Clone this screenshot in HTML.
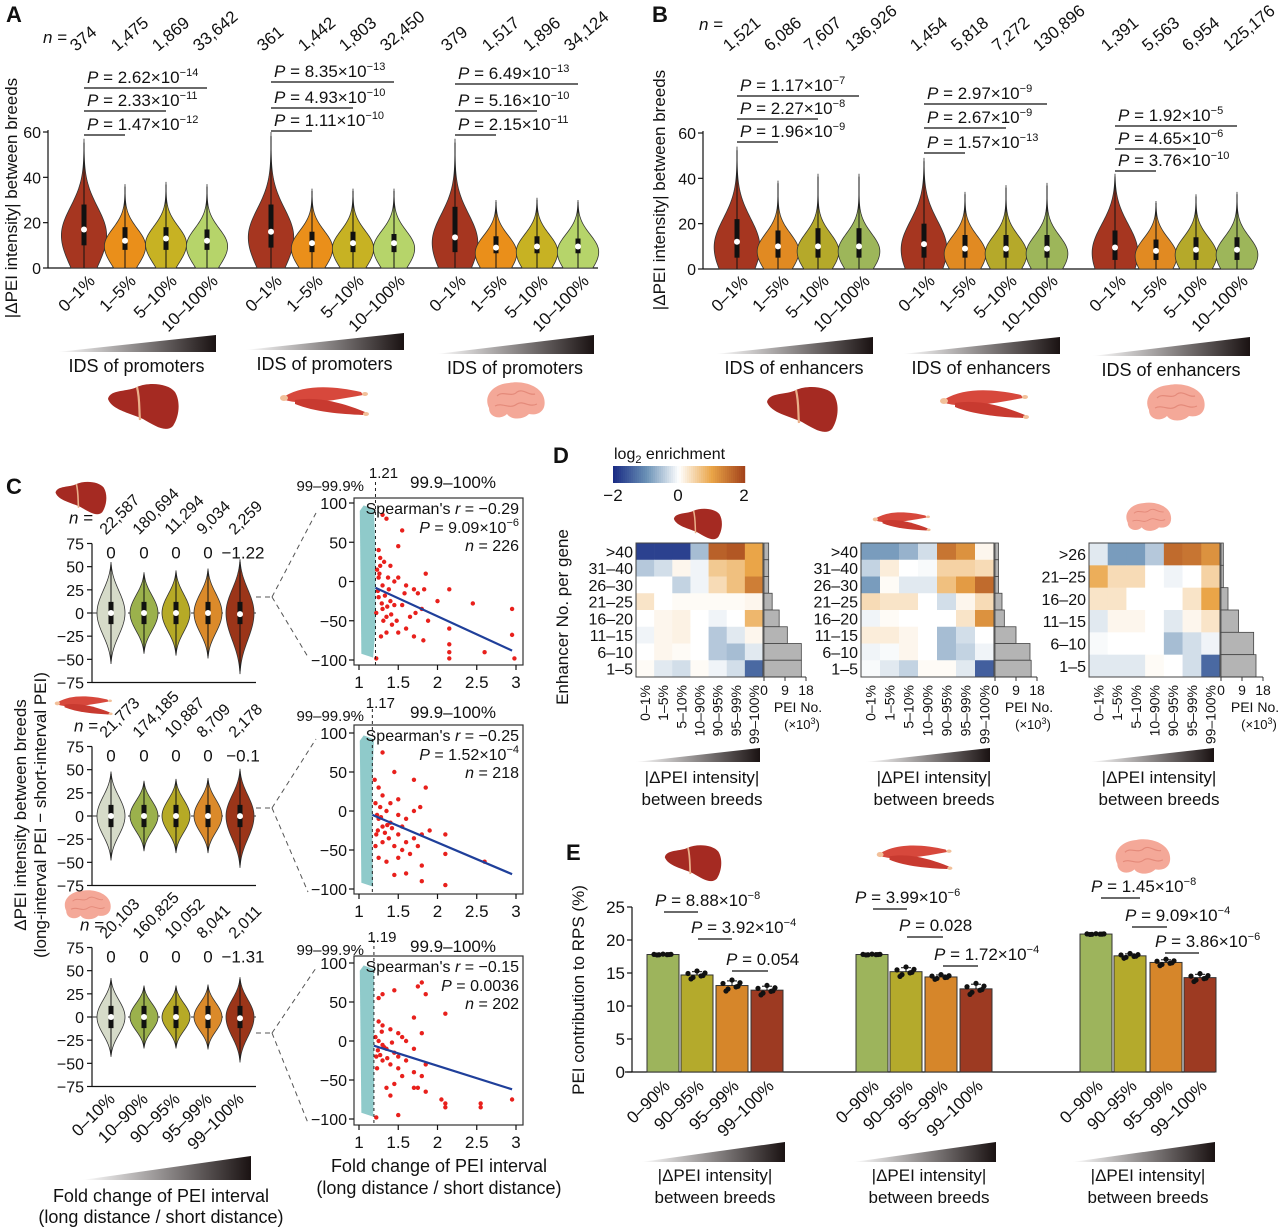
<!DOCTYPE html>
<html><head><meta charset="utf-8">
<style>
html,body{margin:0;padding:0;background:#fff;}
svg{display:block;font-family:"Liberation Sans",Arial,sans-serif;}
</style></head>
<body>
<svg id="fig" width="1280" height="1228" viewBox="0 0 1280 1228" xmlns="http://www.w3.org/2000/svg">
<defs>
<linearGradient id="tri" x1="0" x2="1" y1="0" y2="0"><stop offset="0" stop-color="#ffffff"/><stop offset="1" stop-color="#1a1212"/></linearGradient>
</defs>
</svg>
<script>
// ---------- DATA ----------
const aCats=['0–1%','1–5%','5–10%','10–100%'];
const aN=[['374','1,475','1,869','33,642'],['361','1,442','1,803','32,450'],['379','1,517','1,896','34,124']];
const aMax=[[57,37,38,37],[60,35,35,35],[57,30,31,30]];
const aMed=[[17,12,13,12],[16,11,11,11],[13.5,9,9.5,9.5]];
const aQ1=[[10,8,8,8],[9,7,7,7],[7,6.5,6.5,6.5]];
const aQ3=[[28,18,18,17],[28,16,16,15],[27,14,14,13]];
const aP=[[['2.62','−14'],['2.33','−11'],['1.47','−12']],[['8.35','−13'],['4.93','−10'],['1.11','−10']],[['6.49','−13'],['5.16','−10'],['2.15','−11']]];
const bN=[['1,521','6,086','7,607','136,926'],['1,454','5,818','7,272','130,896'],['1,391','5,563','6,954','125,176']];
const bMax=[[54,39,42,42],[49,34,37,38],[42,30,33,34]];
const bMed=[[12,10,10,10],[11,9,9,9],[9.5,8,8.5,8.5]];
const bQ1=[[5,5,5,5],[5,5,5,5],[4,4,4,4]];
const bQ3=[[22,17,18,18],[20,15,15,15],[17,13,14,14]];
const bP=[[['1.17','−7'],['2.27','−8'],['1.96','−9']],[['2.97','−9'],['2.67','−9'],['1.57','−13']],[['1.92','−5'],['4.65','−6'],['3.76','−10']]];
const cCats=['0–10%','10–90%','90–95%','95–99%','99–100%'];
const cN=[['22,587','180,694','11,294','9,034','2,259'],['21,773','174,185','10,887','8,709','2,178'],['20,103','160,825','10,052','8,041','2,011']];
const cMedLbl=[['0','0','0','0','−1.22'],['0','0','0','0','−0.1'],['0','0','0','0','−1.31']];
const cTop=[[55,44,46,48,58],[48,38,40,41,51],[42,34,34,35,43]];
const cBot=[[-55,-44,-46,-49,-66],[-48,-38,-40,-40,-56],[-43,-34,-34,-35,-49]];
const cMed=[[0,0,0,0,-1.22],[0,0,0,0,-0.1],[0,0,0,0,-1.31]];
const cutoffs=[1.21,1.17,1.19];
const spearR=['−0.29','−0.25','−0.15'];
const spearP=[['9.09','−6'],['1.52','−4'],['0.0036',null]];
const spearN=['226','218','202'];
const regX=[[1.21,2.95],[1.17,2.95],[1.19,2.95]];
const regY=[[-8,-88],[-5,-81],[-6,-62]];
const red1X=[1.25,1.3,1.35,1.55,1.5,1.27,1.32,1.4,1.45,1.25,1.3,1.38,1.5,1.6,1.7,1.75,1.85,1.83,1.25,1.3,1.35,1.42,1.48,1.55,1.6,1.65,1.72,1.8,1.88,2.0,2.15,2.45,1.35,1.5,1.7,1.82,2.15,2.15,2.15,2.15,2.6,2.95,2.95,2.98,1.22,1.28,1.45,1.58,1.26,1.4,1.23,1.24,1.29,1.33,1.36,1.41,1.22,1.27,1.31,1.37];
const red1Y=[40,85,80,65,45,30,25,20,0,5,-5,-10,5,-5,-10,-15,10,-10,-20,-35,-45,-55,-50,-30,-60,-45,-40,-35,-50,-25,-10,-28,-65,-65,-70,-75,-60,-80,-90,-98,-90,-35,-68,-98,-98,-70,-30,-15,10,-25,15,-12,-28,-18,-32,-42,-40,20,-50,5];
const red2X=[1.2,1.25,1.3,1.45,1.3,1.4,1.5,1.35,1.25,1.3,1.4,1.5,1.55,1.6,1.7,1.78,1.85,1.7,1.22,1.3,1.38,1.45,1.5,1.6,1.7,1.75,1.8,1.9,2.1,2.1,1.25,1.35,1.5,1.6,1.45,1.8,1.8,2.1,2.6,1.23,1.55,1.65,1.21,1.24,1.28,1.33,1.36,1.42,1.21,1.27];
const red2Y=[40,30,75,50,20,10,15,0,-10,-20,-15,-5,-20,-10,0,5,30,40,-30,-40,-35,-45,-30,-40,-35,-45,-30,-25,-30,-55,-60,-65,-60,-80,-82,-70,-90,-95,-65,-5,-50,-55,10,-25,-8,-28,-18,-22,-45,5];
const red3X=[1.25,1.3,1.45,1.75,1.8,1.85,2.1,1.7,1.25,1.3,1.4,1.5,1.55,1.25,1.3,1.35,1.45,1.5,1.6,1.7,1.8,1.22,1.3,1.4,1.5,1.55,1.6,1.7,1.8,1.85,1.45,1.35,1.7,1.75,1.85,2.05,2.1,2.1,2.55,2.55,2.95,1.5,1.22,1.4,1.21,1.24,1.27,1.32,1.36,1.42,1.23,1.29];
const red3Y=[55,60,65,70,75,60,35,30,25,20,15,10,5,0,-5,-10,-15,-20,0,-10,10,-20,-25,-30,-35,-45,-25,-40,-45,-30,-55,-60,-60,-60,-65,-75,-80,-85,-80,-85,-75,-95,-98,-70,5,-12,-18,-8,-22,-2,-35,12];
const hmCols=['0–1%','1–5%','5–10%','10–90%','90–95%','95–99%','99–100%'];
const hmRows1=['>40','31–40','26–30','21–25','16–20','11–15','6–10','1–5'];
const hmRows3=['>26','21–25','16–20','11–15','6–10','1–5'];
const hm1=[[-1.8,-1.8,-1.8,-0.6,1.7,1.8,1.0],[-0.5,-0.3,0.1,-0.1,0.6,0.7,1.0],[0,0,-0.4,-0.1,0.4,0.7,1.4],[0.3,0,0.05,0.05,0.05,0.05,0.1],[0,0.1,0.15,0,-0.1,0,0.8],[-0.1,0.1,0.15,0,-0.5,-0.2,0.1],[0,0.1,0.05,0,-0.5,-0.6,-0.2],[0.05,-0.2,-0.3,0.05,-0.1,-0.3,-1.4]];
const hm2=[[-0.9,-0.9,-0.7,-0.3,1.5,1.2,0.1],[-0.4,0.2,0,-0.05,0.5,0.5,0.4],[-0.9,0.05,-0.2,-0.2,0.7,1.1,1.6],[0.4,0.3,0.3,0,-0.3,0.1,0.4],[-0.1,0.05,0,0,0,0.3,1.2],[0.2,0.2,0.1,0,-0.6,-0.3,0],[-0.1,-0.05,0.1,0,-0.6,-0.4,-0.1],[-0.05,-0.2,-0.4,0.05,0.05,-0.2,-1.5]];
const hm3=[[-0.2,-0.9,-0.9,-0.5,1.6,1.5,1.2],[0.9,0.4,0.4,0,-0.1,0,0.5],[0.3,0.3,0,0,0,0.3,1.0],[-0.2,0.1,0.1,0,-0.2,0.1,0.3],[-0.05,0,0,0,-0.6,-0.3,-0.1],[-0.2,-0.2,-0.2,0.05,0,-0.3,-1.4]];
const hmBar1=[2,2,2,3.5,6.5,10,16,16];
const hmBar2=[1.5,1.5,1.5,3,4,9,15,15.5];
const hmBar3=[1,1,3,7.5,14,15];
const eCats=['0–90%','90–95%','95–99%','99–100%'];
const eVals=[[17.8,14.7,13.1,12.4],[17.8,15.2,14.4,12.6],[20.9,17.6,16.6,14.3]];
const eSpread=[[0.05,0.5,0.7,0.6],[0.05,0.6,0.3,0.7],[0.05,0.3,0.4,0.5]];
const eP=[[['8.88','−8'],['3.92','−4'],['0.054',null]],[['3.99','−6'],['0.028',null],['1.72','−4']],[['1.45','−8'],['9.09','−4'],['3.86','−6']]];

// ---------- HELPERS ----------
const NS='http://www.w3.org/2000/svg';
const svg=document.getElementById('fig');
function mk(tag,attrs,parent){const e=document.createElementNS(NS,tag);for(const k in attrs)e.setAttribute(k,attrs[k]);(parent||svg).appendChild(e);return e;}
function nm(e,n){


return e;}
function txt(x,y,html,size,anchor,rot,parent){const t=mk('text',{x:x,y:y,'font-size':size||16,'text-anchor':anchor||'start',fill:'#111'},parent);if(rot)t.setAttribute('transform',`rotate(${rot} ${x} ${y})`);t.innerHTML=html;return t;}
function pHtml(v,ex){return `<tspan font-style="italic">P</tspan> = ${v}`+(ex?`×10<tspan dy="-7" font-size="11">${ex}</tspan>`:'');}
function line(x1,y1,x2,y2,st,w,dash,parent){const l=mk('line',{x1,y1,x2,y2,stroke:st||'#111','stroke-width':w||1.2},parent);if(dash)l.setAttribute('stroke-dasharray',dash);return l;}
function lerp(a,b,t){return a+(b-a)*t;}
function hex(c){return [parseInt(c.slice(1,3),16),parseInt(c.slice(3,5),16),parseInt(c.slice(5,7),16)];}
const cStops=[[-2,'#1b2d85'],[-1,'#6a91b6'],[0,'#ffffff'],[1,'#eaa548'],[2,'#a4441b']];
function cmap(v){v=Math.max(-2,Math.min(2,v));for(let i=0;i<cStops.length-1;i++){const [a,ca]=cStops[i],[b,cb]=cStops[i+1];if(v<=b){const t=(v-a)/(b-a),A=hex(ca),B=hex(cb);return `rgb(${A.map((x,j)=>Math.round(lerp(x,B[j],t))).join(',')})`;}}return cStops[4][1];}

function liver(cx,cy,s,name){const g=nm(mk('g',{transform:`translate(${cx},${cy}) scale(${s})`}),name);
mk('path',{d:'M-34,-6 C-32,-16 -14,-13 -5,-18 C6,-23 26,-22 33,-13 C39,-3 37,12 31,21 C24,28 13,21 1,14 C-12,8 -30,5 -34,-6 Z',fill:'#a52a22'},g);
mk('path',{d:'M-5,-18 C-2,-6 -3,6 -2,15',stroke:'#eab08a','stroke-width':2.2,fill:'none'},g);return g;}
function muscle(cx,cy,s,name){const g=nm(mk('g',{transform:`translate(${cx},${cy}) scale(${s})`}),name);
mk('path',{d:'M-40,-6 C-20,-18 10,-16 36,-10 L38,-7 C10,-2 -20,4 -40,-2 Z',fill:'#d7483c'},g);
mk('path',{d:'M-30,-2 C-5,-6 20,2 40,10 L38,13 C15,12 -10,10 -30,2 Z',fill:'#c83a30'},g);
mk('ellipse',{cx:-41,cy:-4,rx:4,ry:3,fill:'#f2c09a'},g);mk('ellipse',{cx:40,cy:-8,rx:3,ry:2,fill:'#f2c09a'},g);mk('ellipse',{cx:41,cy:12,rx:3,ry:2,fill:'#f2c09a'},g);return g;}
function brain(cx,cy,s,name){const g=nm(mk('g',{transform:`translate(${cx},${cy}) scale(${s})`}),name);
mk('path',{d:'M-26,6 C-32,-6 -22,-18 -6,-19 C8,-22 26,-16 29,-4 C32,8 24,14 14,12 C8,18 -4,18 -8,12 C-14,18 -26,16 -26,6 Z',fill:'#f4a898'},g);
mk('path',{d:'M-18,-6 C-12,-12 -4,-4 2,-10 C8,-14 14,-6 20,-8 M-20,4 C-12,0 -6,8 2,2 C8,-2 14,6 22,2',stroke:'#e48a7a','stroke-width':1.2,fill:'none'},g);return g;}
function triangle(x1,x2,ybot,ytop,name){return nm(mk('path',{d:`M${x1},${ybot} L${x2},${ytop} L${x2},${ybot} Z`,fill:'url(#tri)'}),name);}

function violinUp(cx,yf,mx,mode,med,q1,q3,hw,sd,su,col,name){
const g=nm(mk('g',{}),name);const R=[],L=[];const N=60;
for(let i=0;i<=N;i++){const v=mx*i/N;let gg=v<mode?Math.exp(-0.5*((v-mode)/sd)**2):Math.exp(-0.5*((v-mode)/su)**2);gg*=(1-Math.pow(v/mx,3));const w=hw*gg;R.push(`${cx+w},${yf(v)}`);L.unshift(`${cx-w},${yf(v)}`);}
mk('path',{d:'M'+R.join(' L')+' L'+L.join(' L')+'Z',fill:col,stroke:'#333','stroke-width':0.8},g);
line(cx,yf(0),cx,yf(mx*0.97),'#111',1,null,g);
mk('rect',{x:cx-2.5,y:yf(q3),width:5,height:yf(q1)-yf(q3),fill:'#111'},g);
mk('circle',{cx:cx,cy:yf(med),r:3,fill:'#fff'},g);return g;}
function violinSym(cx,yf,hi,lo,med,hw,col,name){
const g=nm(mk('g',{}),name);const R=[],L=[];const N=60;
for(let i=0;i<=N;i++){const v=lo+(hi-lo)*i/N;const lim=v>=0?hi:lo;const s=Math.abs(lim)*0.42;let w=hw*Math.exp(-0.5*(v/s)**2)*(1-Math.pow(v/lim,4));R.push(`${cx+w},${yf(v)}`);L.unshift(`${cx-w},${yf(v)}`);}
mk('path',{d:'M'+R.join(' L')+' L'+L.join(' L')+'Z',fill:col,stroke:'#333','stroke-width':0.8},g);
line(cx,yf(lo*0.95),cx,yf(hi*0.95),'#111',1,null,g);
mk('rect',{x:cx-2.5,y:yf(12),width:5,height:yf(-12)-yf(12),fill:'#111'},g);
mk('circle',{cx:cx,cy:yf(med),r:3,fill:'#fff'},g);return g;}

// ---------- PANEL A & B ----------
function violinPanel(P){
const yf=v=>P.y0-v*(P.y0-P.y60)/60;
txt(P.lx,22,'<tspan font-weight="bold">'+P.letter+'</tspan>',22);
nm(line(P.ax,P.y60-2,P.ax,P.y0),P.letter+'-y-axis');
nm(line(P.ax,P.y0,P.axEnd,P.y0),P.letter+'-x-axis');
[0,20,40,60].forEach(t=>{line(P.ax-5,yf(t),P.ax,yf(t));nm(txt(P.ax-7,yf(t)+6,String(t),16,'end'),'y-tick-'+t);});
nm(txt(P.titleX,P.titleY,'|ΔPEI intensity| between breeds',17,'middle',-90),P.letter+'-y-axis-title');
nm(txt(P.nX,P.nY,'<tspan font-style="italic">n</tspan> =',17),'n-label');
P.groups.forEach((cs,gi)=>{
 cs.forEach((cx,i)=>{
  violinUp(cx,yf,P.max[gi][i],P.med[gi][i]-2,P.med[gi][i],P.q1[gi][i],P.q3[gi][i],i==0?23:21,i==0?14:9,i==0?13:8,P.cols[i],`violin-${P.letter}-${gi}-${i}`);
  nm(txt(cx-8,52,P.n[gi][i],17,'start',-40),'n-value');
  nm(txt(cx+12,282,aCats[i],17,'end',-45),'x-label');
 });
 P.p[gi].forEach((pv,k)=>{const ly=P.pLines[gi][k];nm(line(cs[0],ly,cs[3-k],ly),'p-bracket');nm(txt(cs[0]+3,ly-5,pHtml(pv[0],pv[1]),17),'p-value');});
 triangle(P.tri[gi][0],P.tri[gi][1],P.tri[gi][2],P.tri[gi][3],'gradient-triangle');
 nm(txt((P.tri[gi][0]+P.tri[gi][1])/2,P.tri[gi][2]+20,P.label,18,'middle'),'group-label');
});
}
violinPanel({letter:'A',lx:6,ax:48,axEnd:598,y0:268,y60:132,titleX:17,titleY:198,nX:43,nY:43,
 groups:[[84,125,166,207],[271,312,353,394],[455,496,537,578]],max:aMax,med:aMed,q1:aQ1,q3:aQ3,n:aN,p:aP,
 pLines:[[88,111,135],[82,108,131],[84,111,135]],cols:['#a63620','#ea8f1a','#c7b223','#b6d46a'],
 tri:[[57,216,352,335],[245,404,350,333],[436,594,354,335]],label:'IDS of promoters'});
violinPanel({letter:'B',lx:652,ax:703,axEnd:1252,y0:269,y60:133,titleX:665,titleY:190,nX:699,nY:30,
 groups:[[737,778,818,859],[924,965,1006,1047],[1115,1156,1196,1237]],max:bMax,med:bMed,q1:bQ1,q3:bQ3,n:bN,p:bP,
 pLines:[[96,119,142],[104,128,153],[126,149,171]],cols:['#a63620','#e18a22','#b5a92a','#9db65a'],
 tri:[[715,873,354,337],[902,1060,354,337],[1092,1250,356,337]],label:'IDS of enhancers'});
liver(142,405,1.0,'liver-icon');muscle(325,402,1.0,'muscle-icon');brain(515,402,1.0,'brain-icon');
liver(801,408,1.0,'liver-icon');muscle(985,405,1.0,'muscle-icon');brain(1175,404,1.0,'brain-icon');

// ---------- PANEL C ----------
txt(6,494,'<tspan font-weight="bold">C</tspan>',22);
const cX=[111,144,176,208,240];
const cZero=[613,816,1017];
const cCols=['#d6dbc9','#9bb14c','#b6aa26','#db8a2a','#9b3519'];
const sBox=[[498,665],[725,894],[956,1125]];
const sY=[[503,660],[733,889],[963,1119]];
const sTitleY=[488,718,952];
const conn=[[597,513,657],[808,739,892],[1033,968,1123]];
liver(80,497,0.72,'liver-icon');muscle(84,706,0.65,'muscle-icon');brain(87,906,0.8,'brain-icon');
cZero.forEach((z,pi)=>{
 const yf=v=>z-v*69.5/75;
 nm(line(92,yf(75),92,yf(-75)),'C-y-axis');nm(line(92,yf(-75),256,yf(-75)),'C-x-axis');
 [75,50,25,0,-25,-50,-75].forEach(t=>{line(87,yf(t),92,yf(t));nm(txt(84,yf(t)+6,t<0?'−'+(-t):String(t),16,'end'),'y-tick');});
 nm(line(92,z,256,z,'#333',1,'5,4'),'zero-line');
 nm(txt(pi==0?69:(pi==1?74:80),yf(75)-(pi==0?20:(pi==1?15:17)),'<tspan font-style="italic">n</tspan> =',17),'n-label');
 cX.forEach((cx,i)=>{
  violinSym(cx,yf,cTop[pi][i],cBot[pi][i],cMed[pi][i],14,cCols[i],'violin-C-'+pi+'-'+i);
  nm(txt(cx-5,yf(75)-8,cN[pi][i],16,'start',-45),'n-value');
  nm(txt(cx+(i==4?3:0),yf(75)+15,cMedLbl[pi][i],17,'middle'),'median-value');
 });
 const c=conn[pi];
 line(256,c[0],272,c[0],'#555',1,'5,4');line(272,c[0],316,c[1],'#555',1,'5,4');line(272,c[0],308,c[2],'#555',1,'5,4');
 const sx=v=>359+(v-1)*78.5;const sy=v=>sY[pi][0]+(100-v)*(sY[pi][1]-sY[pi][0])/200;
 nm(mk('rect',{x:354,y:sBox[pi][0],width:169,height:sBox[pi][1]-sBox[pi][0],fill:'none',stroke:'#333','stroke-width':1.2}),'scatter-frame');
 [100,50,0,-50,-100].forEach(t=>{line(349,sy(t),354,sy(t));nm(txt(347,sy(t)+6,t<0?'−'+(-t):String(t),16,'end'),'y-tick');});
 [1,1.5,2,2.5,3].forEach(t=>{line(sx(t),sBox[pi][1],sx(t),sBox[pi][1]+5);nm(txt(sx(t),sBox[pi][1]+23,String(t),17,'middle'),'x-tick');});
 nm(mk('path',{d:`M${sx(1.03)},${sy(-92)} L${sx(1.01)},${sy(90)} L${sx(1.06)},${sy(97)} L${sx(1.19)},${sy(92)} L${sx(cutoffs[pi])},${sy(40)} L${sx(cutoffs[pi])},${sy(-60)} L${sx(1.18)},${sy(-97)} Z`,fill:'#8fcaca'}),'cyan-points');
 const rx=[red1X,red2X,red3X][pi],ry=[red1Y,red2Y,red3Y][pi];
 rx.forEach((x,k)=>{const d=mk('circle',{cx:sx(x),cy:sy(ry[k]),r:2.2,fill:'#e8201c'});
  
  });
 nm(line(sx(regX[pi][0]),sy(regY[pi][0]),sx(regX[pi][1]),sy(regY[pi][1]),'#1f3f9a',2.2),'regression-line');
 nm(line(sx(cutoffs[pi]),sBox[pi][0]-16,sx(cutoffs[pi]),sBox[pi][1],'#222',1,'3,3'),'cutoff-line');
 nm(txt(sx(cutoffs[pi])+8,sTitleY[pi]-10,String(cutoffs[pi]),15,'middle'),'cutoff-label');
 nm(txt(364,sTitleY[pi]+3,'99–99.9%',15,'end'),'range-label');
 nm(txt(453,sTitleY[pi],'99.9–100%',17,'middle'),'range-title');
 const b0=sBox[pi][0];
 nm(txt(519,b0+16,"Spearman's <tspan font-style='italic'>r</tspan> = "+spearR[pi],16,'end'),'spearman-r');
 nm(txt(519,b0+35,pHtml(spearP[pi][0],spearP[pi][1]),16,'end'),'spearman-p');
 nm(txt(519,b0+53,'<tspan font-style="italic">n</tspan> = '+spearN[pi],16,'end'),'spearman-n');
});
cX.forEach((cx,i)=>nm(txt(cx+5,1100,cCols&&cCats[i],17,'end',-45),'x-label'));
nm(txt(26,815,'ΔPEI intensity between breeds',17,'middle',-90),'C-y-axis-title');
nm(txt(46,815,'(long-interval PEI − short-interval PEI)',17,'middle',-90),'C-y-axis-title-2');
triangle(82,251,1180,1156,'gradient-triangle');
nm(txt(161,1202,'Fold change of PEI interval',18,'middle'),'x-axis-title');
nm(txt(161,1223,'(long distance / short distance)',18,'middle'),'x-axis-title-2');
nm(txt(439,1172,'Fold change of PEI interval',18,'middle'),'scatter-x-title');
nm(txt(439,1194,'(long distance / short distance)',18,'middle'),'scatter-x-title-2');

// ---------- PANEL D ----------
txt(553,463,'<tspan font-weight="bold">D</tspan>',22);
nm(txt(614,459,'log<tspan dy="4" font-size="11">2</tspan><tspan dy="-4"> enrichment</tspan>',16),'colorbar-title');
for(let i=0;i<66;i++){const v=-2+4*i/65;const r=mk('rect',{x:613+i*2,y:466,width:2.2,height:17,fill:cmap(v)});
 
 }
[['−2',613],['0',678],['2',744]].forEach(a=>nm(txt(a[1],501,a[0],17,'middle'),'colorbar-tick'));
nm(txt(568,617,'Enhancer No. per gene',17,'middle',-90),'D-y-axis-title');
const hms=[{d:hm1,rows:hmRows1,bar:hmBar1,x0:636,x1:763,y0:543,y1:677},{d:hm2,rows:hmRows1,bar:hmBar2,x0:861,x1:994,y0:543,y1:677},{d:hm3,rows:hmRows3,bar:hmBar3,x0:1089,x1:1220,y0:543,y1:677}];
hms.forEach((H,hi)=>{
 const cw=(H.x1-H.x0)/7,rh=(H.y1-H.y0)/H.rows.length;
 H.d.forEach((row,r)=>row.forEach((v,c)=>{const e=mk('rect',{x:H.x0+c*cw,y:H.y0+r*rh,width:cw+0.3,height:rh+0.3,fill:cmap(v)});
  
  }));
 nm(mk('rect',{x:H.x0,y:H.y0,width:H.x1-H.x0,height:H.y1-H.y0,fill:'none',stroke:'#444','stroke-width':1}),'heatmap-frame');
 H.rows.forEach((l,r)=>nm(txt(H.x0-3,H.y0+r*rh+rh/2+6,l,16,'end'),'row-label'));
 hmCols.forEach((l,c)=>nm(txt(H.x0+c*cw+cw/2+5,H.y1+8,l,14,'end',-90),'col-label'));
 const bx=v=>H.x1+1+v*(42/18);
 H.bar.forEach((v,r)=>{const e=mk('rect',{x:bx(0),y:H.y0+r*rh,width:bx(v)-bx(0),height:rh,fill:'#b4b4b4',stroke:'#444','stroke-width':0.8});
  
  });
 line(bx(0),H.y1,bx(18),H.y1,'#333',1);
 [0,9,18].forEach(t=>{line(bx(t),H.y1,bx(t),H.y1+4,'#333',1);nm(txt(bx(t),H.y1+18,String(t),14,'middle'),'bar-tick');});
 nm(txt(bx(18)-8,H.y1+35,'PEI No.',14,'middle'),'bar-axis-title');
 nm(txt(bx(18)-4,H.y1+52,'(×10<tspan dy="-5" font-size="9">3</tspan><tspan dy="5">)</tspan>',13,'middle'),'bar-axis-unit');
});
liver(697,523,0.68,'liver-icon');muscle(902,522,0.65,'muscle-icon');brain(1148,518,0.78,'brain-icon');
[[635,760,702],[865,990,934],[1089,1214,1159]].forEach(t=>{triangle(t[0],t[1],762,748,'gradient-triangle');
 nm(txt(t[2],783,'|ΔPEI intensity|',17,'middle'),'axis-label');nm(txt(t[2],805,'between breeds',17,'middle'),'axis-label');});

// ---------- PANEL E ----------
txt(566,860,'<tspan font-weight="bold">E</tspan>',22);
const eY=v=>1072-v*6.6;
const eX=[[663,697,732,767],[872,906,941,976],[1096,1130,1166,1200]];
const eCols=['#9db45c','#b4aa2c','#d6862a','#9d3a22'];
const eLines=[[[664,698,912,655],[698,732,939,691],[732,768,971,726]],[[873,907,909,855],[907,943,937,899],[943,978,966,934]],[[1101,1140,898,1091],[1132,1167,927,1125],[1165,1199,953,1155]]];
nm(line(632,eY(25),632,eY(0)),'E-y-axis');nm(line(625,eY(0),1215,eY(0)),'E-x-axis');
[0,5,10,15,20,25].forEach(t=>{line(627,eY(t),632,eY(t));nm(txt(625,eY(t)+6,String(t),17,'end'),'y-tick');});
nm(txt(584,990,'PEI contribution to RPS (%)',17,'middle',-90),'E-y-axis-title');
const jit=[-9,-4,0,4,8,-6,6];const jy=[0.3,-0.5,0.8,-0.2,0.4,-0.8,-0.1];
eVals.forEach((gv,gi)=>{
 gv.forEach((v,i)=>{const cx=eX[gi][i];
  nm(mk('rect',{x:cx-16,y:eY(v),width:32,height:eY(0)-eY(v),fill:eCols[i],stroke:'#333','stroke-width':1}),'bar-'+eCats[i]);
  line(cx-5,eY(v+eSpread[gi][i]),cx+5,eY(v+eSpread[gi][i]),'#111',1);line(cx,eY(v),cx,eY(v+eSpread[gi][i]),'#111',1);
  jit.forEach((j,k)=>{const d=mk('circle',{cx:cx+j,cy:eY(v+jy[k]*eSpread[gi][i]*1.5),r:2.6,fill:'#111'});
   
   });
  nm(txt(cx+8,1087,eCats[i],17,'end',-45),'x-label');
 });
 eP[gi].forEach((pv,k)=>{const L=eLines[gi][k];nm(line(L[0],L[2],L[1],L[2]),'p-bracket');nm(txt(L[3],L[2]-6,pHtml(pv[0],pv[1]),17),'p-value');});
});
[[641,785,715],[853,996,929],[1072,1215,1148]].forEach(t=>{triangle(t[0],t[1],1162,1142,'gradient-triangle');
 nm(txt(t[2],1181,'|ΔPEI intensity|',17,'middle'),'axis-label');nm(txt(t[2],1203,'between breeds',17,'middle'),'axis-label');});
liver(692,862,0.8,'liver-icon');muscle(915,858,0.85,'muscle-icon');brain(1142,858,0.95,'brain-icon');
</script>
</body></html>
